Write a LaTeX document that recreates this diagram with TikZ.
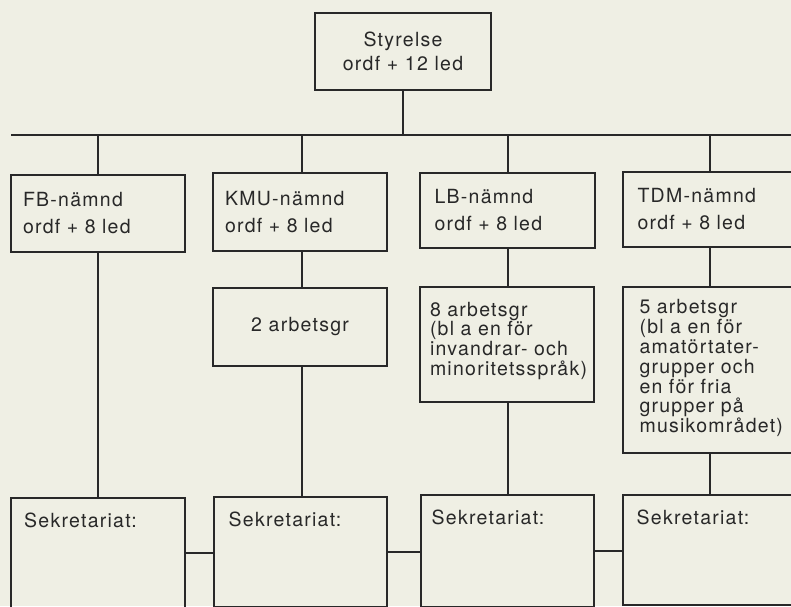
\documentclass[tikz,border=0pt]{standalone}
\usepackage{fontspec}
\setmainfont[LetterSpace=6.5]{TeX Gyre Heros}
\definecolor{paper}{RGB}{239,239,228}
\definecolor{ink}{RGB}{40,40,40}
\tikzset{
  box/.style={draw=ink, line width=2pt, rectangle, text=ink, inner ysep=0pt},
  lbox/.style={box, align=left, inner xsep=12pt, text width=150pt,
    font={\fontsize{19.5}{27}\selectfont}},
  wbox/.style={box, align=left, inner xsep=10pt, text width=154pt,
    font={\fontsize{19.5}{19.8}\selectfont}},
  cbox/.style={box, align=center, inner xsep=0pt, font={\fontsize{19.5}{24}\selectfont}},
  sbox/.style={box},
  stext/.style={anchor=north west, text=ink, inner sep=0pt, font={\fontsize{19.5}{19.8}\selectfont}},
  conn/.style={draw=ink, line width=2pt}
}
\begin{document}
\begin{tikzpicture}[x=1pt,y=-1pt]
\useasboundingbox (0,0) rectangle (791,606);
\fill[paper] (0,0) rectangle (791,606);
\clip (0,0) rectangle (791,606);

% top
\node[cbox, minimum width=176pt, minimum height=77pt] (sty) at (403,51.5) {Styrelse\\ordf + 12 led};
\coordinate (busL) at (11,135);
\coordinate (busR) at (795,135);

% committees
\node[lbox, minimum height=77pt] (fb) at (98,213.5) {FB-nämnd\\ordf + 8 led};
\node[lbox, minimum height=78pt] (kmu) at (300,212) {KMU-nämnd\\ordf + 8 led};
\node[lbox, minimum height=75pt, inner xsep=15pt, text width=145pt] (lb) at (507,210.5) {LB-nämnd\\ordf + 8 led};
\node[lbox, minimum height=75pt, inner xsep=15pt, text width=145pt] (tdm) at (710,209.5) {TDM-nämnd\\ordf + 8 led};

% working groups
\node[cbox, minimum width=174pt, minimum height=78pt, font={\fontsize{19.5}{19.8}\selectfont}] (kmuw) at (300,327) {2 arbetsgr};
\node[wbox, minimum height=115pt] (lbw) at (507,344.5) {8 arbetsgr\\(bl a en för\\invandrar- och\\minoritetsspråk)\\[-8pt]\mbox{}};
\node[wbox, minimum height=166pt, inner xsep=17pt, text width=141pt] (tdmw) at (710,370) {5 arbetsgr\\(bl a en för\\amatörtater-\\grupper och\\en för fria\\grupper på\\musikområdet)\\[-12pt]\mbox{}};

% secretariats
\node[sbox, minimum width=174pt, minimum height=110pt] (fbs) at (98,553) {};
\node[sbox, minimum width=173pt, minimum height=110pt] (kmus) at (300,552) {};
\node[sbox, minimum width=173pt, minimum height=112pt] (lbs) at (507,551) {};
\node[sbox, minimum width=175pt, minimum height=110pt] (tdms) at (710,550) {};
\node[stext] (fbst) at ([xshift=14pt,yshift=-16pt]fbs.north west) {Sekretariat:};
\node[stext] (kmust) at ([xshift=16pt,yshift=-16pt]kmus.north west) {Sekretariat:};
\node[stext] (lbst) at ([xshift=12pt,yshift=-16pt]lbs.north west) {Sekretariat:};
\node[stext] (tdmst) at ([xshift=15pt,yshift=-16pt]tdms.north west) {Sekretariat:};

% connectors
\draw[conn] (busL) -- (busR);
\draw[conn] (sty.south) -- (sty.south |- busL);
\draw[conn] (fb.north) -- (fb.north |- busL);
\draw[conn] ([xshift=2pt]kmu.north) -- ([xshift=2pt]kmu.north |- busL);
\draw[conn] ([xshift=1pt]lb.north) -- ([xshift=1pt]lb.north |- busL);
\draw[conn] (tdm.north) -- (tdm.north |- busL);

\draw[conn] (fb.south) -- (fbs.north -| fb.south);
\draw[conn] ([xshift=2pt]kmu.south) -- ([xshift=2pt]kmuw.north);
\draw[conn] ([xshift=2pt]kmuw.south) -- ([xshift=2pt]kmuw.south |- kmus.north);
\draw[conn] ([xshift=1pt]lb.south) -- ([xshift=1pt]lbw.north);
\draw[conn] ([xshift=1pt]lbw.south) -- ([xshift=1pt]lbw.south |- lbs.north);
\draw[conn] (tdm.south) -- (tdmw.north);
\draw[conn] (tdmw.south) -- (tdmw.south |- tdms.north);

\draw[conn] (fbs.east) -- (kmus.west |- fbs.east);
\draw[conn] (kmus.east) -- (lbs.west |- kmus.east);
\draw[conn] (lbs.east) -- (tdms.west |- lbs.east);
\end{tikzpicture}
\end{document}
